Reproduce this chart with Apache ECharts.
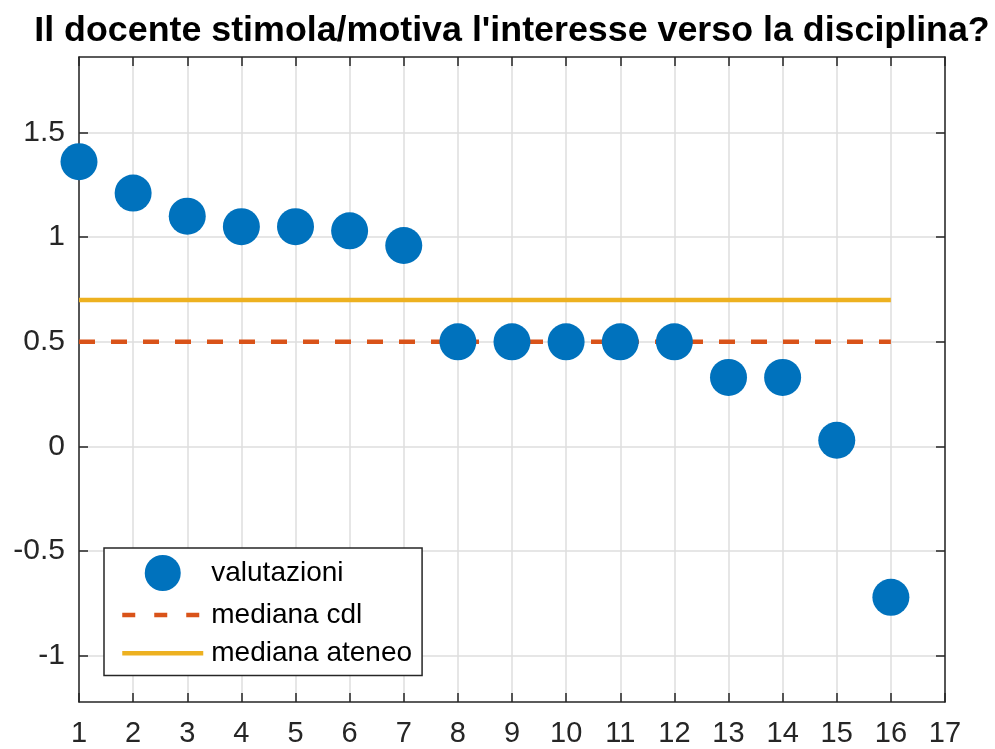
<!DOCTYPE html>
<html>
<head>
<meta charset="utf-8">
<script src="https://cdn.jsdelivr.net/npm/echarts@6/dist/echarts.min.js"></script>
<style>
  html, body { margin: 0; padding: 0; background: #fff; }
  #chart { width: 995px; height: 749px; }
</style>
</head>
<body>
<div id="chart"></div>
<script>
// dati
var corsi = [1, 2, 3, 4, 5, 6, 7, 8, 9, 10, 11, 12, 13, 14, 15, 16];
var valutazioni = [1.36, 1.21, 1.10, 1.05, 1.05, 1.03, 0.96, 0.5, 0.5, 0.5, 0.5, 0.5, 0.33, 0.33, 0.03, -0.72];
var medianaCdl = 0.5;
var medianaAteneo = 0.70;
var yTicks = [-1, -0.5, 0, 0.5, 1, 1.5];
var yMin = -1.22, yMax = 1.86;

var font = 'Liberation Sans, Arial, sans-serif';
var axisColor = '#262626';

var chart = echarts.init(document.getElementById('chart'));

function xAx(pos, showLabel) {
  return {
    type: 'value', position: pos, min: 1, max: 17, interval: 1,
    axisLine: { show: true, onZero: false, lineStyle: { color: axisColor, width: 1.5 } },
    axisTick: { show: true, inside: true, length: 9, lineStyle: { color: axisColor, width: 1.5 } },
    axisLabel: { show: showLabel, color: axisColor, fontFamily: font, fontSize: 29, margin: 17 },
    splitLine: { show: showLabel, lineStyle: { color: '#dedede', width: 1.5 } }
  };
}
function yAx(pos, showLabel) {
  return {
    type: 'value', position: pos, min: yMin, max: yMax,
    axisLine: { show: true, onZero: false, lineStyle: { color: axisColor, width: 1.5 } },
    axisTick: { show: true, inside: true, length: 9, customValues: yTicks, lineStyle: { color: axisColor, width: 1.5 } },
    axisLabel: { show: showLabel, customValues: yTicks, color: axisColor, fontFamily: font, fontSize: 30, margin: 14 },
    splitLine: { show: showLabel, lineStyle: { color: '#dedede', width: 1.5 } }
  };
}

chart.setOption({
  animation: false,
  backgroundColor: '#fff',
  title: {
    text: "Il docente stimola/motiva l'interesse verso la disciplina?",
    left: 507, textAlign: 'center', top: 8,
    textStyle: { fontFamily: font, fontSize: 35.8, fontWeight: 'bold', color: '#000' }
  },
  grid: { left: 79, right: 50, top: 57, bottom: 47 },
  xAxis: [xAx('bottom', true), xAx('top', false)],
  yAxis: [yAx('left', true), yAx('right', false)],
  legend: {
    orient: 'vertical', left: 104, top: 548,
    backgroundColor: '#fff', borderColor: axisColor, borderWidth: 1.5,
    padding: [7, 10, 8, 16],
    itemWidth: 81, itemHeight: 36, itemGap: 9.5,
    textStyle: { fontFamily: font, fontSize: 28, color: '#000', padding: [0, 0, 0, 3] },
    data: [
      { name: 'valutazioni', icon: 'circle', itemStyle: { color: '#0072BD' } },
      { name: 'mediana cdl', itemStyle: { opacity: 0 }, lineStyle: { width: 4.5, type: [13, 19] } },
      { name: 'mediana ateneo', itemStyle: { opacity: 0 }, lineStyle: { width: 4.5 } }
    ]
  },
  series: [
    {
      name: 'mediana ateneo', type: 'line', symbol: 'none', z: 2,
      lineStyle: { color: '#EDB120', width: 4.5 },
      itemStyle: { color: '#EDB120' },
      data: corsi.map(function (c) { return [c, medianaAteneo]; })
    },
    {
      name: 'mediana cdl', type: 'line', symbol: 'none', z: 2,
      lineStyle: { color: '#D95319', width: 4.5, type: [16, 16] },
      itemStyle: { color: '#D95319' },
      data: corsi.map(function (c) { return [c, medianaCdl]; })
    },
    {
      name: 'valutazioni', type: 'scatter', symbol: 'circle', symbolSize: 37, z: 3,
      itemStyle: { color: '#0072BD', opacity: 1 },
      data: corsi.map(function (c, i) { return [c, valutazioni[i]]; })
    }
  ]
});
</script>
</body>
</html>
